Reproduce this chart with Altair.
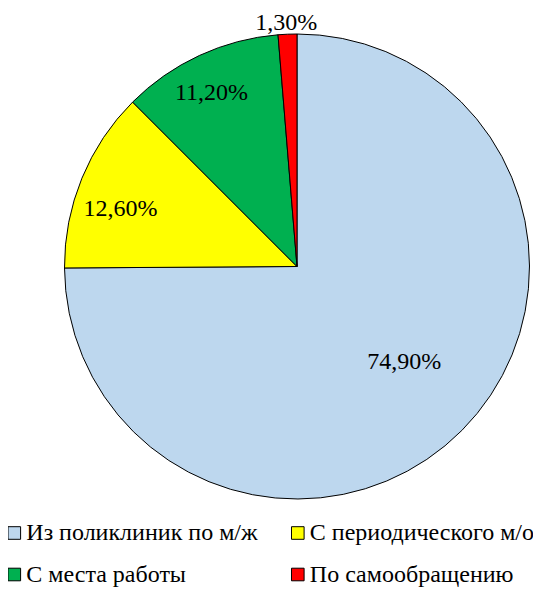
import altair as alt
import pandas as pd

categories = ["Из поликлиник по м/ж", "С периодического м/о", "С места работы", "По самообращению"]
values = [74.9, 12.6, 11.2, 1.3]
labels = ["74,90%", "12,60%", "11,20%", "1,30%"]
colors = ["#BDD7EE", "#FFFF00", "#00B050", "#FF0000"]

df = pd.DataFrame({"cat": categories, "value": values, "label": labels, "idx": list(range(len(categories)))})

# legend fills column by column, so order the domain to read row by row
legend_order = [0, 2, 1, 3]
dom = [categories[i] for i in legend_order]
rng = [colors[i] for i in legend_order]

CX, CY, R = 289, 258.5, 232.5
FONT = "'Times New Roman', 'Liberation Serif', serif"

base = alt.Chart(df).encode(
    theta=alt.Theta("value:Q", stack=True),
    order=alt.Order("idx:Q"),
)

pie = base.mark_arc(radius=R, stroke="black", strokeWidth=1).encode(
    x=alt.value(CX),
    y=alt.value(CY),
    color=alt.Color(
        "cat:N",
        scale=alt.Scale(domain=dom, range=rng),
        sort=dom,
        legend=alt.Legend(
            title=None,
            orient="none",
            legendX=-8.5,
            legendY=513,
            columns=2,
            columnPadding=24.5,
            rowPadding=17.5,
            symbolType="square",
            symbolSize=159,
            symbolOffset=2.8,
            symbolStrokeColor="black",
            symbolStrokeWidth=1,
            symbolOpacity=1,
            labelFont=FONT,
            labelFontSize=24,
            labelColor="black",
            labelOffset=0,
            labelLimit=400,
            padding=0,
        ),
    ),
)

# label placement per slice: (radius, dx, dy)
label_style = {
    categories[0]: (148.5, 2, -2),
    categories[1]: (182.2, -8, 19),
    categories[2]: (186.8, -7, 3),
    categories[3]: (240.0, -1, 3),
}

layers = [pie]
for c, (r, dx, dy) in label_style.items():
    t = base.mark_text(
        radius=r, dx=dx, dy=dy, font=FONT, fontSize=24, color="black",
        align="center", baseline="alphabetic",
    ).encode(
        x=alt.value(CX),
        y=alt.value(CY),
        text=alt.condition(alt.datum.cat == c, alt.Text("label:N"), alt.value("")),
    )
    layers.append(t)

chart = alt.layer(*layers).properties(
    width=525, height=581, autosize=alt.AutoSizeParams(type="none"), padding=0
).configure_view(stroke=None)

chart.save("out.html", embed_options={"renderer": "svg", "actions": False})
